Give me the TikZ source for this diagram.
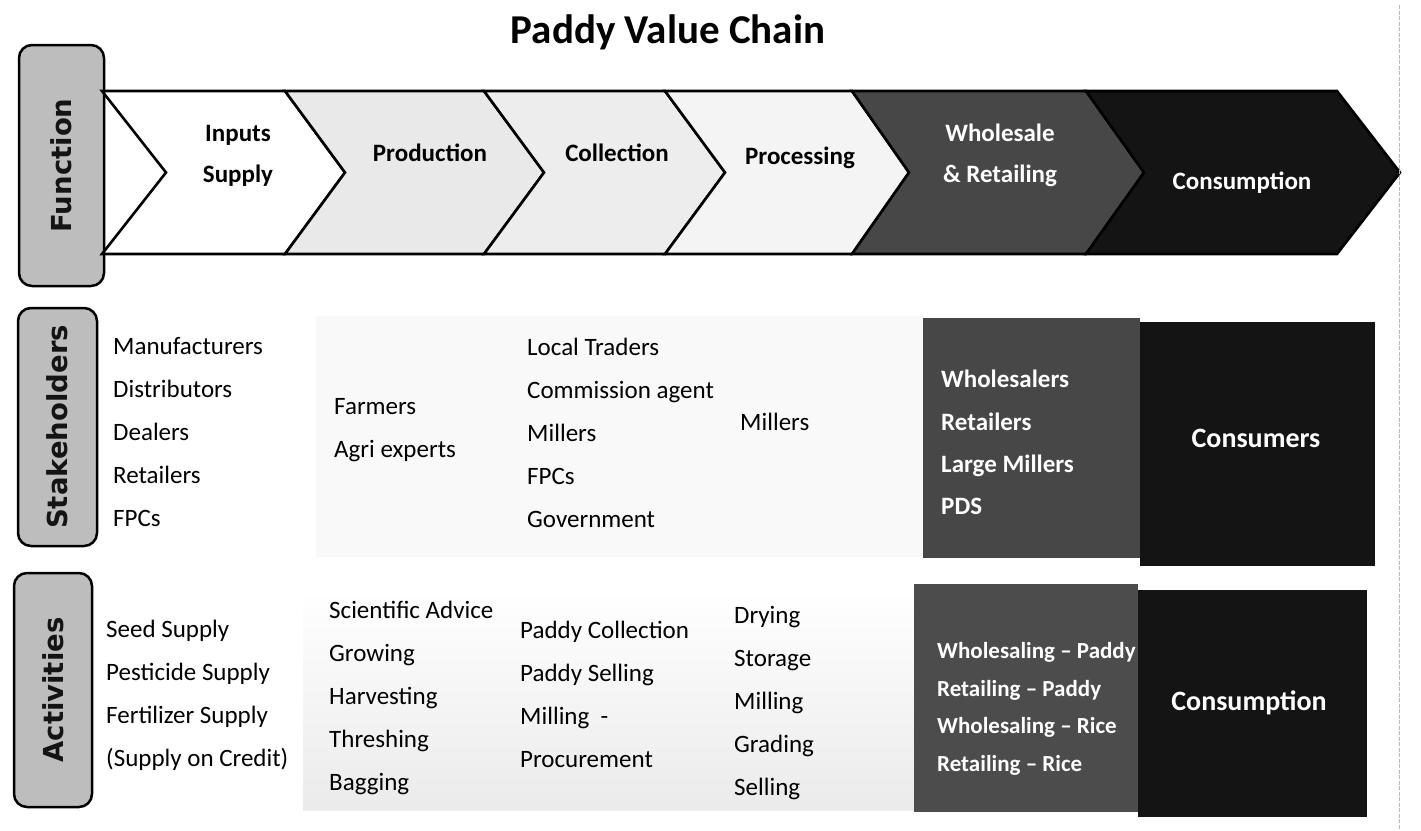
\documentclass[tikz,border=0pt]{standalone}
\usepackage{fontspec}
\setmainfont{Carlito}
\newfontfamily\lblfont{DejaVu Sans}
\begin{document}
\begin{tikzpicture}[x=1pt,y=-1pt,
  lbl/.style={draw=black, line width=2.5pt, rounded corners=13pt, fill=gray!52, rotate=90,
    font=\lblfont\bfseries\fontsize{27.5}{32}\selectfont, text=black!92, inner sep=0pt},
  chev/.style={draw=black, line width=2.6pt, line join=miter},
  fn/.style={font=\bfseries\fontsize{25}{41}\selectfont, align=center, inner sep=0pt},
  fnw/.style={fn, text=white},
  cell/.style={font=\fontsize{25}{43}\selectfont, align=left, anchor=west, inner sep=0pt},
  cellw/.style={font=\bfseries\fontsize{25}{42.3}\selectfont, align=left, anchor=west, inner sep=0pt, text=white},
  cellws/.style={font=\bfseries\fontsize{23}{37.7}\selectfont, align=left, anchor=west, inner sep=0pt, text=white},
  big/.style={font=\bfseries\fontsize{28}{34}\selectfont, text=white, inner sep=0pt}]
\useasboundingbox (0,0) rectangle (1421,830);
\fill[white] (0,0) rectangle (1421,830);

% title
\node[font=\bfseries\fontsize{41}{48}\selectfont, anchor=base, inner sep=0pt] (title) at (668,43) {Paddy Value Chain};

% row labels
\node[lbl, minimum width=241pt, minimum height=85pt] (function) at (61.5,165.5) {Function};
\node[lbl, minimum width=238pt, minimum height=79pt] (stakeholders) at (57.5,427) {Stakeholders};
\node[lbl, minimum width=234pt, minimum height=78pt] (activities) at (53,690) {Activities};

% function chevrons
\path[chev, fill=white]    (102,91) -- (285,91) -- (345,172.5) -- (285,254) -- (102,254) -- (166,172.5) -- cycle;
\path[chev, fill=gray!17]  (285,91) -- (484,91) -- (544,172.5) -- (484,254) -- (285,254) -- (345,172.5) -- cycle;
\path[chev, fill=gray!14]  (484,91) -- (665,91) -- (725,172.5) -- (665,254) -- (484,254) -- (544,172.5) -- cycle;
\path[chev, fill=gray!9]   (665,91) -- (852,91) -- (909,172.5) -- (852,254) -- (665,254) -- (725,172.5) -- cycle;
\path[chev, fill=black!72] (852,91) -- (1086,91) -- (1144,172.5) -- (1086,254) -- (852,254) -- (909,172.5) -- cycle;
\path[chev, fill=black!92] (1086,91) -- (1337,91) -- (1400,172.5) -- (1337,254) -- (1086,254) -- (1144,172.5) -- cycle;

\node[fn]  (f1) at (238,155.5) {Inputs\\Supply};
\node[fn]  (f2) at (430,153) {Production};
\node[fn]  (f3) at (617,153) {Collection};
\node[fn]  (f4) at (800,158) {Processing};
\node[fnw] (f5) at (1000,155.5) {Wholesale\\\& Retailing};
\node[fnw] (f6) at (1242,183) {Consumption};

% stakeholders row backgrounds
\fill[gray!5]   (316,316) rectangle (923,557);
\fill[black!72] (923,318) rectangle (1140,558);
\fill[black!92] (1140,322) rectangle (1375,566);

\node[cell] (s1) at (113,431.6) {Manufacturers\\Distributors\\Dealers\\Retailers\\FPCs};
\node[cell] (s2) at (334,430) {Farmers\\Agri experts};
\node[cell] (s3) at (527,433) {Local Traders\\Commission agent\\Millers\\FPCs\\Government};
\node[cell] (s4) at (740,422) {Millers};
\node[cellw] (s5) at (941,442.5) {Wholesalers\\Retailers\\Large Millers\\PDS};
\node[big] (s6) at (1256,438) {Consumers};

% activities row backgrounds
\shade[top color=white, bottom color=gray!16] (303,590) rectangle (914,810);
\fill[black!70] (914,584) rectangle (1138,812);
\fill[black!92] (1138,590) rectangle (1367,817);

\node[cell] (a1) at (106,695) {Seed Supply\\Pesticide Supply\\Fertilizer Supply\\(Supply on Credit)};
\node[cell] (a2) at (329,698) {Scientific Advice\\Growing\\Harvesting\\Threshing\\Bagging};
\node[cell] (a3) at (520,694) {Paddy Collection\\Paddy Selling\\Milling~~-\\Procurement};
\node[cell] (a4) at (734,703) {Drying\\Storage\\Milling\\Grading\\Selling};
\node[cellws] (a5) at (937,709) {Wholesaling – Paddy\\Retailing – Paddy\\Wholesaling – Rice\\Retailing – Rice};
\node[big] (a6) at (1249,703) {Consumption};

% page edge line
\coordinate (pgtop) at (1399,5);
\coordinate (pgbot) at (1399,830);
\draw[gray!55, line width=1pt, dash pattern=on 4pt off 1.5pt] (pgtop) -- (pgbot);
\end{tikzpicture}
\end{document}
